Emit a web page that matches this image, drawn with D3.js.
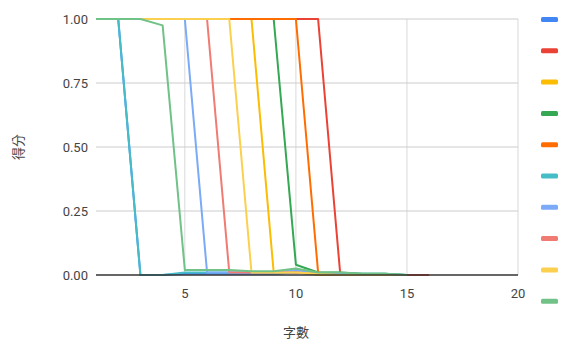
<!DOCTYPE html>
<html>
<head>
<meta charset="utf-8">
<script src="https://cdn.jsdelivr.net/npm/d3@7"></script>
<style>
  html, body { margin: 0; padding: 0; background: #fff; }
  svg { display: block; font-family: Roboto, Arial, sans-serif; }
</style>
</head>
<body>
<svg id="chart" width="565" height="347"></svg>
<script>
// Score vs. character count, one line per run
const xTicks = [5, 10, 15, 20];
const yTicks = [0, 0.25, 0.5, 0.75, 1];
const xTitle = "字數";
const yTitle = "得分";

const colors = ["#4285F4", "#EA4335", "#FBBC04", "#34A853", "#FF6D01",
                "#46BDC6", "#7BAAF7", "#F07B72", "#FCD04F", "#71C287"];

// Scores for character counts 1, 2, 3, ...
const s1  = [1, 1, 0, 0, 0.005, 0.005, 0.005, 0.005, 0.005, 0.01, 0.005, 0.005, 0, 0, 0];
const s2  = [1, 1, 1, 1, 1, 1, 1, 1, 1, 1, 1, 0, 0, 0, 0, 0];
const s3  = [1, 1, 1, 1, 1, 1, 1, 1, 0.01, 0.01, 0, 0, 0, 0, 0];
const s4  = [1, 1, 1, 1, 1, 1, 1, 1, 1, 0.04, 0.01, 0.01, 0.005, 0.005, 0];
const s5  = [1, 1, 1, 1, 1, 1, 1, 1, 1, 1, 0.01, 0, 0, 0, 0];
const s6  = [1, 1, 0, 0, 0.01, 0.01, 0.01, 0.01, 0.005, 0.01, 0.005, 0.005, 0.005, 0.005, 0];
const s7  = [1, 1, 1, 1, 1, 0.01, 0.01, 0.01, 0.01, 0.02, 0.005, 0.005, 0, 0, 0];
const s8  = [1, 1, 1, 1, 1, 1, 0.01, 0.01, 0.01, 0.01, 0.005, 0, 0, 0, 0];
const s9  = [1, 1, 1, 1, 1, 1, 1, 0.01, 0.01, 0.01, 0.005, 0, 0, 0, 0];
const s10 = [1, 1, 1, 0.975, 0.02, 0.02, 0.02, 0.015, 0.015, 0.025, 0.01, 0.01, 0.005, 0.005, 0];
const series = [s1, s2, s3, s4, s5, s6, s7, s8, s9, s10];

const svg = d3.select("#chart");
const x = d3.scaleLinear().domain([1, 20]).range([96, 518]);
const y = d3.scaleLinear().domain([0, 1]).range([275, 19]);

// vertical grid
svg.append("g").selectAll("line").data(xTicks).join("line")
  .attr("x1", d => x(d)).attr("x2", d => x(d))
  .attr("y1", y(1)).attr("y2", y(0))
  .attr("stroke", "#d9d9d9").attr("stroke-width", 1);

// horizontal grid
svg.append("g").selectAll("line").data(yTicks.filter(d => d > 0)).join("line")
  .attr("x1", x(1)).attr("x2", x(20))
  .attr("y1", d => y(d)).attr("y2", d => y(d))
  .attr("stroke", "#cccccc").attr("stroke-width", 1);

// series lines
const line = d3.line().x((d, i) => x(i + 1)).y(d => y(d));
svg.append("g").selectAll("path").data(series).join("path")
  .attr("d", d => line(d))
  .attr("fill", "none")
  .attr("stroke", (d, i) => colors[i])
  .attr("stroke-width", 2)
  .attr("stroke-linejoin", "round");

// baseline
svg.append("line")
  .attr("x1", x(1)).attr("x2", x(20))
  .attr("y1", y(0)).attr("y2", y(0))
  .attr("stroke", "#333").attr("stroke-width", 1.5);

// y tick labels
svg.append("g").selectAll("text").data(yTicks).join("text")
  .attr("x", 88).attr("y", d => y(d) + 4.5)
  .attr("text-anchor", "end")
  .attr("font-size", 13).attr("fill", "#444")
  .text(d => d3.format(".2f")(d));

// x tick labels
svg.append("g").selectAll("text").data(xTicks).join("text")
  .attr("x", d => x(d)).attr("y", 298)
  .attr("text-anchor", "middle")
  .attr("font-size", 13).attr("fill", "#444")
  .text(d => d);

// axis titles
svg.append("text")
  .attr("x", 296).attr("y", 337)
  .attr("text-anchor", "middle")
  .attr("font-family", "'Noto Sans CJK TC', sans-serif")
  .attr("font-size", 13).attr("fill", "#444")
  .text(xTitle);

svg.append("text")
  .attr("transform", "translate(23,147) rotate(-90)")
  .attr("text-anchor", "middle")
  .attr("font-family", "'Noto Sans CJK TC', sans-serif")
  .attr("font-size", 13).attr("fill", "#444")
  .text(yTitle);

// legend swatches
svg.append("g").selectAll("rect").data(colors).join("rect")
  .attr("x", 541).attr("y", (d, i) => 17 + i * 31.3)
  .attr("width", 17).attr("height", 5).attr("rx", 1.5)
  .attr("fill", d => d);
</script>
</body>
</html>
